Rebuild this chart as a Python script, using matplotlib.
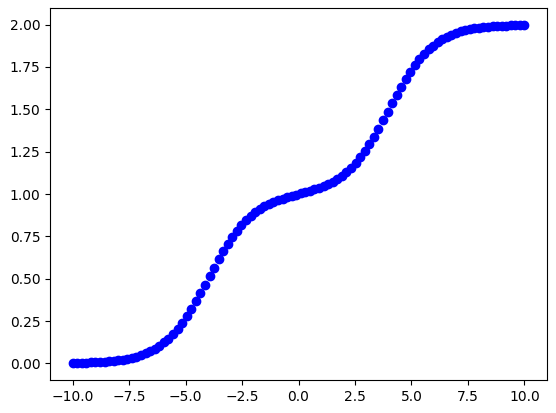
import matplotlib
matplotlib.use("Agg")
import matplotlib.pyplot as plt

# x positions (100 evenly spaced samples)
x_neg = [-10.000, -9.798, -9.596, -9.394, -9.192, -8.990, -8.788, -8.586, -8.384, -8.182,
         -7.980, -7.778, -7.576, -7.374, -7.172, -6.970, -6.768, -6.566, -6.364, -6.162,
         -5.960, -5.758, -5.556, -5.354, -5.152, -4.949, -4.747, -4.545, -4.343, -4.141,
         -3.939, -3.737, -3.535, -3.333, -3.131, -2.929, -2.727, -2.525, -2.323, -2.121,
         -1.919, -1.717, -1.515, -1.313, -1.111, -0.909, -0.707, -0.505, -0.303, -0.101]
x_pos = [0.101, 0.303, 0.505, 0.707, 0.909, 1.111, 1.313, 1.515, 1.717, 1.919,
         2.121, 2.323, 2.525, 2.727, 2.929, 3.131, 3.333, 3.535, 3.737, 3.939,
         4.141, 4.343, 4.545, 4.747, 4.949, 5.152, 5.354, 5.556, 5.758, 5.960,
         6.162, 6.364, 6.566, 6.768, 6.970, 7.172, 7.374, 7.576, 7.778, 7.980,
         8.182, 8.384, 8.586, 8.788, 8.990, 9.192, 9.394, 9.596, 9.798, 10.000]

y_neg = [0.002, 0.003, 0.004, 0.005, 0.006, 0.007, 0.008, 0.010, 0.012, 0.015,
         0.018, 0.022, 0.027, 0.033, 0.040, 0.049, 0.059, 0.071, 0.086, 0.103,
         0.124, 0.147, 0.174, 0.205, 0.240, 0.279, 0.322, 0.367, 0.415, 0.465,
         0.516, 0.566, 0.615, 0.662, 0.705, 0.746, 0.782, 0.815, 0.844, 0.870,
         0.892, 0.911, 0.927, 0.941, 0.953, 0.964, 0.973, 0.982, 0.989, 0.996]
y_pos = [1.004, 1.011, 1.018, 1.027, 1.036, 1.047, 1.059, 1.073, 1.089, 1.108,
         1.130, 1.156, 1.185, 1.218, 1.254, 1.295, 1.338, 1.385, 1.434, 1.484,
         1.535, 1.585, 1.633, 1.678, 1.721, 1.760, 1.795, 1.826, 1.853, 1.876,
         1.897, 1.914, 1.929, 1.941, 1.951, 1.960, 1.967, 1.973, 1.978, 1.982,
         1.985, 1.988, 1.990, 1.992, 1.993, 1.994, 1.995, 1.996, 1.997, 1.998]

x = x_neg + x_pos
y = y_neg + y_pos

fig = plt.figure(figsize=(5.56, 4.13), dpi=100)
ax = fig.add_axes([0.0899, 0.0799, 0.894, 0.9007])
ax.plot(x, y, 'bo')

fig.savefig("out.png", dpi=100)
